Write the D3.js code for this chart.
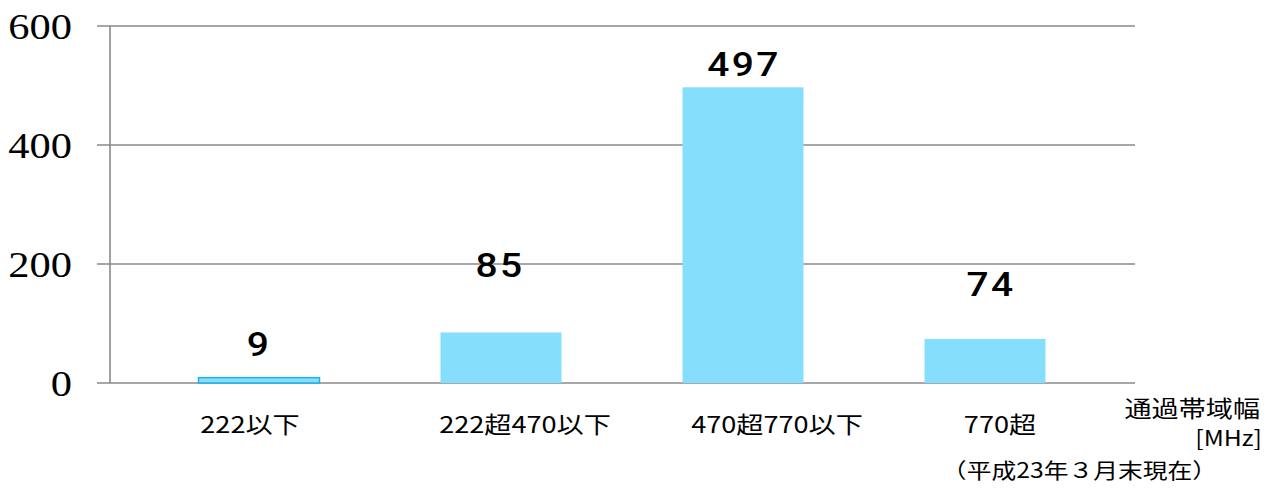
<!DOCTYPE html>
<html>
<head>
<meta charset="utf-8">
<script src="https://cdn.jsdelivr.net/npm/d3@7"></script>
<style>
  body { margin: 0; background: #fff; }
  svg { display: block; }
</style>
</head>
<body>
<div id="chart"></div>
<script>
// data
var categories = ['222以下', '222超470以下', '470超770以下', '770超'];
var counts = [9, 85, 497, 74];
var yTicks = [0, 200, 400, 600];

// layout tweaks (pixels): value-label lift and label nudges, per bar
var valueLift = [22, 55, 11, 43];
var valueDx = [0, -1, 1, 6];
var catDx = [-9, 24, 34, 15];

var width = 1277, height = 493;
var sx = 1.18; // the source is stretched sideways a bit

var svg = d3.select('#chart').append('svg')
  .attr('width', width)
  .attr('height', height);

var x = d3.scaleBand().domain(categories).range([138, 1106])
  .paddingInner(0.5).paddingOuter(0.25);
var y = d3.scaleLinear().domain([0, 600]).range([383, 26]);

function stext(g, tx, ty, txt, size, family, anchor, weight) {
  return g.append('text')
    .attr('transform', 'translate(' + tx + ',' + ty + ') scale(' + sx + ',1)')
    .attr('text-anchor', anchor || 'middle')
    .attr('font-family', family)
    .attr('font-size', size)
    .attr('font-weight', weight || 'normal')
    .attr('fill', '#000')
    .text(txt);
}

// gridlines
svg.append('g').selectAll('line').data(yTicks).join('line')
  .attr('x1', 97).attr('x2', 1135)
  .attr('y1', function(d) { return y(d); })
  .attr('y2', function(d) { return y(d); })
  .attr('stroke', '#8a8a8a').attr('stroke-width', 1.6);

// y axis line
svg.append('line')
  .attr('x1', 110).attr('x2', 110)
  .attr('y1', y(600)).attr('y2', y(0))
  .attr('stroke', '#8a8a8a').attr('stroke-width', 1.6);

// y tick labels (serif)
var yl = svg.append('g');
yTicks.forEach(function(t) {
  stext(yl, 72, y(t) + 13, String(t), 36, 'Liberation Serif, DejaVu Serif, serif', 'end');
});

// bars
svg.append('g').selectAll('rect').data(counts).join('rect')
  .attr('x', function(d, i) { return x(categories[i]); })
  .attr('y', function(d) { return y(d); })
  .attr('width', x.bandwidth())
  .attr('height', function(d) { return y(0) - y(d); })
  .attr('fill', '#86defd')
  .attr('stroke', function(d, i) { return i === 0 ? '#22b2e6' : 'none'; })
  .attr('stroke-width', 1.5);

// value labels
var vl = svg.append('g');
counts.forEach(function(v, i) {
  var cx = x(categories[i]) + x.bandwidth() / 2 + valueDx[i];
  stext(vl, cx, y(v) - valueLift[i], String(v), 33, 'Roboto, Noto Sans, sans-serif', 'middle', 500)
    .attr('letter-spacing', 2);
});

// category labels
var cl = svg.append('g');
categories.forEach(function(c, i) {
  var cx = x(c) + x.bandwidth() / 2 + catDx[i];
  stext(cl, cx, 433, c, 23, 'Noto Sans CJK JP, sans-serif');
});

// axis title and note
stext(svg, 1260, 417, '通過帯域幅', 23, 'Noto Sans CJK JP, sans-serif', 'end');
stext(svg, 1262, 446, '[MHz]', 21, 'Noto Sans CJK JP, sans-serif', 'end');
stext(svg, 1217, 478, '（平成23年３月末現在）', 21, 'Noto Sans CJK JP, sans-serif', 'end');
</script>
</body>
</html>
